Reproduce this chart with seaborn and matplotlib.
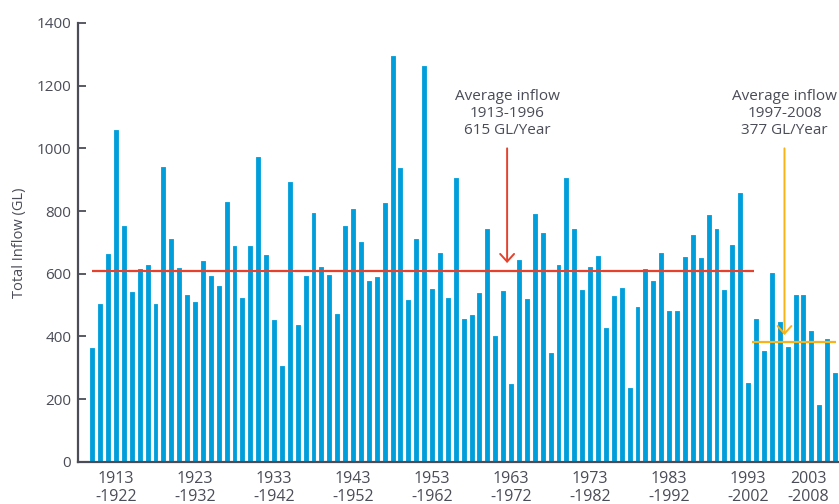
import numpy as np
import pandas as pd
import seaborn as sns
from matplotlib import pyplot as plt

# annual inflow, GL (1913-2007)
years = list(range(1913, 2008))
inflow = [364, 502, 663, 1059, 752, 541, 614, 629, 502, 939,
          710, 617, 532, 511, 640, 593, 561, 830, 688, 521,
          688, 973, 659, 452, 306, 894, 436, 594, 793, 622,
          595, 471, 752, 808, 702, 578, 591, 827, 1296, 938,
          516, 710, 1263, 551, 665, 523, 906, 454, 469, 537,
          744, 402, 544, 247, 643, 520, 792, 729, 347, 628,
          906, 744, 548, 621, 657, 428, 529, 553, 234, 495,
          614, 578, 666, 482, 482, 653, 723, 651, 787, 743,
          547, 692, 859, 252, 456, 352, 602, 446, 365, 532,
          532, 417, 182, 393, 284]

tick_labels = ["1913\n-1922", "1923\n-1932", "1933\n-1942", "1943\n-1952",
               "1953\n-1962", "1963\n-1972", "1973\n-1982", "1983\n-1992",
               "1993\n-2002", "2003\n-2008"]
tick_years = [1916, 1926, 1936, 1946, 1956, 1966, 1976, 1986, 1996, 2003.6]

avg_old = 607   # drawn level, labelled 615
avg_new = 381   # drawn level, labelled 377
old_label = "Average inflow\n1913-1996\n615 GL/Year"
new_label = "Average inflow\n1997-2008\n377 GL/Year"

BLUE = '#009FDB'
RED = '#E5412D'
YELLOW = '#F8B319'
DARK = '#4A4C57'

sns.set_style('ticks')
plt.rcParams['font.family'] = ['Open Sans', 'DejaVu Sans']
plt.rcParams['text.color'] = DARK

df = pd.DataFrame({'year': years, 'inflow': inflow})

fig = plt.figure(figsize=(8.39, 5.04), dpi=100)
ax = fig.add_axes([0.0933, 0.0839, 0.9067, 0.8705])

sns.barplot(data=df, x='year', y='inflow', color=BLUE, width=0.5,
            saturation=1, ax=ax, edgecolor=BLUE, linewidth=0.6)
for p in ax.patches:
    p.set_joinstyle('round')

# index of a year on the categorical axis
pos = lambda y: y - years[0]

ax.hlines(avg_old, pos(1913), pos(1996) + 0.8, color=RED, lw=1.6, zorder=3)
ax.hlines(avg_new, pos(1996) + 0.5, pos(2007) + 0.1, color=YELLOW, lw=1.6, zorder=3)

ax.annotate('', xy=(pos(1965.5), 634), xytext=(pos(1965.5), 1000),
            arrowprops=dict(arrowstyle='->,head_length=0.55,head_width=0.5',
                            color=RED, lw=1.4, mutation_scale=10,
                            shrinkA=0, shrinkB=0))
ax.text(pos(1965.5), 1112, old_label, ha='center', va='center',
        fontsize=11, linespacing=1.2)

ax.annotate('', xy=(pos(2000.6), 404), xytext=(pos(2000.6), 1000),
            arrowprops=dict(arrowstyle='->,head_length=0.55,head_width=0.5',
                            color=YELLOW, lw=1.4, mutation_scale=10,
                            shrinkA=0, shrinkB=0))
ax.text(pos(2000.6), 1112, new_label, ha='center', va='center',
        fontsize=11, linespacing=1.2)

ax.set_ylim(0, 1400)
ax.set_xlim(-1.77, 94.5)
ax.set_yticks(range(0, 1401, 200))
ax.set_xticks([pos(y) for y in tick_years])
ax.set_xticklabels(tick_labels, fontsize=11.5, linespacing=1.15)
ax.tick_params(axis='x', length=0, pad=7, colors=DARK)
ax.tick_params(axis='y', direction='in', length=6, width=1.3, pad=5,
               colors=DARK, labelsize=11)

ax.set_xlabel('')
ax.set_ylabel('Total Inflow (GL)', fontsize=10.5, color=DARK, labelpad=7)

sns.despine(ax=ax)
for s in ('left', 'bottom'):
    ax.spines[s].set_color(DARK)
    ax.spines[s].set_linewidth(1.6)

plt.savefig('out.png', dpi=100)
